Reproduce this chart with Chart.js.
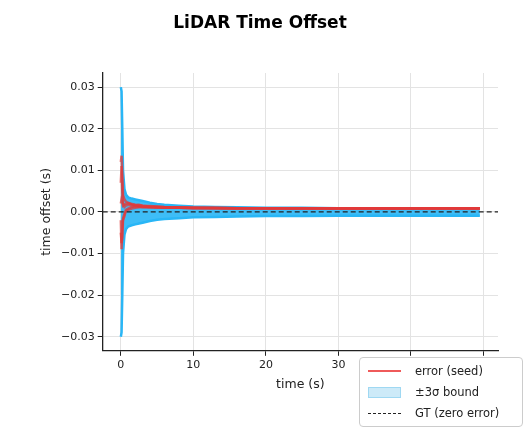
<!DOCTYPE html>
<html><head><meta charset="utf-8">
<script src="https://cdn.jsdelivr.net/npm/chart.js@4"></script>
<style>
body{margin:0;background:#fff;font-family:"DejaVu Sans",sans-serif}
#wrap{position:relative;width:529px;height:434px}
#title{position:absolute;top:12px;left:0;width:520px;text-align:center;font-weight:bold;font-size:17px}
#legend{position:absolute;left:359px;top:357px;width:162px;height:68px;background:rgba(255,255,255,.9);border:1px solid #ccc;border-radius:4px;font-size:11.5px;color:#222}
.row{position:absolute;left:8px;height:20px;display:flex;align-items:center}
.row span{display:inline-block;width:33px;margin-right:14px}
</style></head>
<body><div id="wrap">
<div id="title">LiDAR Time Offset</div>
<canvas id="c" width="529" height="434"></canvas>
<div id="legend">
<div class="row" style="top:3px"><span style="border-top:2px solid #ef5a5a"></span>error (seed)</div>
<div class="row" style="top:24px"><span style="height:9px;background:#cdeaf8;border:1px solid #9fd8f2;width:31px"></span>±3σ bound</div>
<div class="row" style="top:45px"><span style="border-top:1.5px dashed #222"></span>GT (zero error)</div>
</div>
</div>
<script>
// time samples (s)
const times = [0,0.1,0.2,0.3,0.5,0.7,1,1.5,2,2.5,3,4,5,6,8,10,13,16,20,25,30,35,40,45,49.5];
// 3-sigma bound
const sigma3 = [0.030,0.029,0.020,0.010,0.0055,0.0042,0.0035,0.0032,0.003,0.0028,0.0026,0.0022,0.0019,0.0017,0.0015,0.0013,0.0012,0.0011,0.001,0.001,0.0009,0.0009,0.0009,0.0009,0.0009];
// error per seed
const seed1 = [0.0120,0.0135,0.009,0.004,0.003,0.0025,0.0022,0.0018,0.0016,0.0017,0.0015,0.0013,0.0012,0.0011,0.001,0.001,0.0009,0.0009,0.0009,0.0009,0.0008,0.0009,0.0008,0.0009,0.0009];
const seed2 = [-0.0050,-0.0075,-0.006,-0.002,-0.001,0.0005,0.0008,0.0012,0.0014,0.0013,0.0012,0.0011,0.0011,0.001,0.001,0.0009,0.0009,0.0008,0.0008,0.0008,0.0008,0.0008,0.0008,0.0008,0.0008];
const seed3 = [0.0020,0.0030,0.0025,0.0015,0.0018,0.0020,0.0021,0.0019,0.0017,0.0016,0.0015,0.0014,0.0013,0.0012,0.0011,0.001,0.001,0.0009,0.0009,0.0009,0.0009,0.0009,0.0009,0.0009,0.0009];
const seed4 = [-0.0020,-0.0090,-0.004,-0.0015,-0.0005,0.0002,0.0005,0.0008,0.001,0.0011,0.0011,0.0011,0.001,0.001,0.001,0.0009,0.0009,0.0009,0.0009,0.0008,0.0008,0.0008,0.0008,0.0008,0.0008];
const seed5 = [0.0070,0.0110,0.005,0.002,0.0012,0.0015,0.0017,0.0016,0.0014,0.0013,0.0013,0.0012,0.0012,0.0011,0.001,0.001,0.001,0.0009,0.0009,0.0009,0.0009,0.0009,0.0009,0.0009,0.0009];
const seeds = [seed1, seed2, seed3, seed4, seed5];
const xTicks = [0,10,20,30,40,50];
const yTicks = [-0.03,-0.02,-0.01,0,0.01,0.02,0.03];

const pts = arr => arr.map((v,i)=>({x:times[i],y:v}));
// higher order = drawn first (underneath)
const datasets = [
  {data:pts(sigma3),order:10,borderColor:'#29b6f6',borderWidth:2.5,backgroundColor:'rgba(41,182,246,0.9)',pointRadius:0,fill:false},
  {data:pts(sigma3.map(v=>-v)),order:9,borderColor:'#29b6f6',borderWidth:2.5,backgroundColor:'rgba(41,182,246,0.9)',pointRadius:0,fill:'-1'}
];
seeds.forEach(s=>datasets.push({data:pts(s),order:2,borderColor:'rgba(226,58,58,0.75)',borderWidth:2.5,pointRadius:0,fill:false}));
datasets.push({data:[{x:-2.5,y:0},{x:52,y:0}],order:1,borderColor:'#222',borderWidth:1.3,borderDash:[5,3],pointRadius:0,fill:false});

Chart.defaults.font.family = '"DejaVu Sans", sans-serif';
new Chart(document.getElementById('c'),{
  type:'line',
  data:{datasets},
  options:{
    responsive:false,animation:false,
    layout:{padding:{top:73,right:31,bottom:38,left:35}},
    plugins:{legend:{display:false},tooltip:{enabled:false}},
    scales:{
      x:{type:'linear',min:-2.5,max:52,
        afterBuildTicks:a=>{a.ticks=xTicks.map(v=>({value:v}));},
        ticks:{color:'#222',font:{size:11},maxRotation:0,callback:v=>v===40||v===50?'':v},
        grid:{color:'#e3e3e3',tickColor:'#222',tickLength:5},
        border:{color:'#222',width:1.3},
        title:{display:true,text:'time (s)',color:'#222',font:{size:12.5},padding:{top:2}}},
      y:{min:-0.0334,max:0.0334,
        afterBuildTicks:a=>{a.ticks=yTicks.map(v=>({value:v}));},
        ticks:{color:'#222',font:{size:11},callback:v=>(v<0?'\u2212':'')+Math.abs(v).toFixed(2)},
        grid:{color:'#e3e3e3',tickColor:'#222',tickLength:5},
        border:{color:'#222',width:1.3},
        title:{display:true,text:'time offset (s)',color:'#222',font:{size:12.5}}}
    }
  }
});
</script></body></html>
